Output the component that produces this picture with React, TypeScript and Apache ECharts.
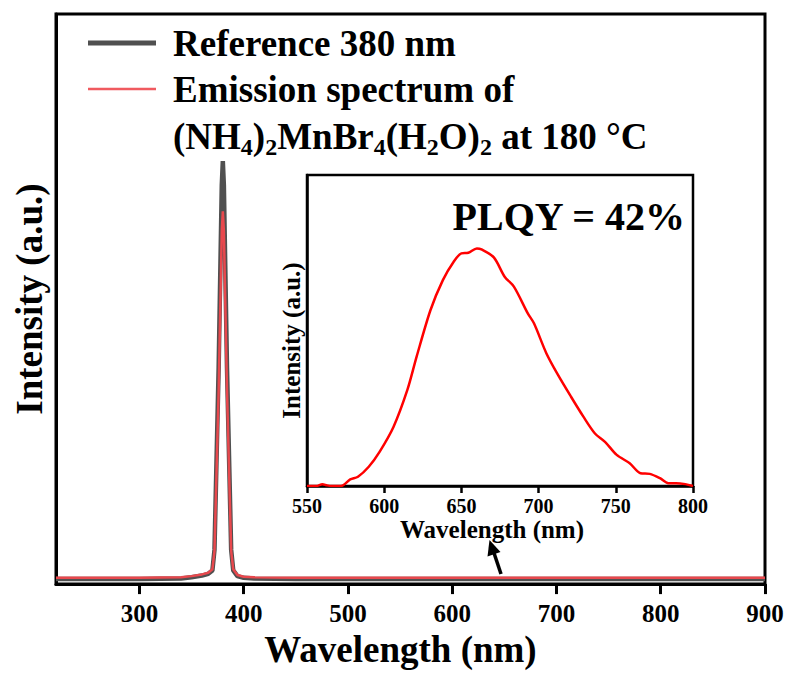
import React, { useEffect, useRef } from "react";
import * as echarts from "echarts";

const FONT = '"Liberation Serif", "Times New Roman", serif';

// Main spectrum (wavelength nm)
const refWl = [220, 300, 340, 350, 360, 366, 370, 372, 376, 379, 380, 381, 384, 388, 390, 394, 400, 410, 450, 500, 600, 700, 800, 900];
const refVal = [0.009, 0.009, 0.01, 0.012, 0.015, 0.018, 0.024, 0.06, 0.38, 0.70, 0.742, 0.70, 0.38, 0.06, 0.024, 0.014, 0.011, 0.01, 0.009, 0.009, 0.009, 0.009, 0.009, 0.009];
const emWl = [220, 300, 340, 350, 360, 366, 370, 372, 376, 379, 380, 381, 384, 388, 390, 394, 400, 410, 450, 500, 600, 700, 800, 900];
const emVal = [0.011, 0.011, 0.012, 0.014, 0.017, 0.02, 0.026, 0.058, 0.34, 0.62, 0.654, 0.62, 0.34, 0.058, 0.026, 0.016, 0.013, 0.012, 0.011, 0.011, 0.011, 0.011, 0.011, 0.011];
const mainTicks = [300, 400, 500, 600, 700, 800, 900];

// Inset PL spectrum
const plWl = [550, 556, 560, 563, 566, 572, 578, 583, 590, 597, 606, 615, 621, 630, 638, 645, 650, 654.5, 660, 663, 671, 678, 684, 693, 697, 705, 712, 721, 729, 736.5, 743, 750.6, 759, 766, 772, 778.6, 784, 789, 795, 800];
const plVal = [0.0, 0.0, 0.006, 0.002, 0.0, 0.0, 0.021, 0.03, 0.062, 0.11, 0.19, 0.309, 0.416, 0.566, 0.662, 0.721, 0.748, 0.75, 0.764, 0.761, 0.735, 0.673, 0.641, 0.555, 0.523, 0.427, 0.362, 0.287, 0.223, 0.169, 0.142, 0.1, 0.073, 0.041, 0.039, 0.025, 0.009, 0.009, 0.006, 0.0];

const pairs = (xs: number[], ys: number[]) => xs.map((x, i) => [x, ys[i]]);

export default function App() {
  const ref = useRef<HTMLDivElement>(null);
  useEffect(() => {
    const chart = echarts.init(ref.current!, null, { renderer: "svg" });
    const option: any = {
      animation: false,
      backgroundColor: "#fff",
      textStyle: { fontFamily: FONT },
      grid: [
        { left: 56, top: 14, width: 709, height: 573, show: true, borderColor: "#000", borderWidth: 3, backgroundColor: "transparent" },
        { left: 307, top: 175, width: 386, height: 311, show: true, borderColor: "#000", borderWidth: 2.5, backgroundColor: "#fff" },
      ],
      xAxis: [
        {
          type: "value", gridIndex: 0, min: 220, max: 900,
          name: "Wavelength (nm)", nameLocation: "middle", nameGap: 46,
          nameTextStyle: { fontFamily: FONT, fontWeight: "bold", fontSize: 37, color: "#000", padding: [0, 20, 0, 0] },
          axisLine: { show: true, onZero: false, lineStyle: { color: "#000", width: 3 } },
          axisTick: { show: true, inside: false, length: 10, lineStyle: { color: "#000", width: 3 }, customValues: mainTicks },
          axisLabel: { show: true, margin: 17, fontFamily: FONT, fontWeight: "bold", fontSize: 25, color: "#000", customValues: mainTicks },
          splitLine: { show: false },
        },
        {
          type: "value", gridIndex: 1, min: 550, max: 800, interval: 50,
          name: "Wavelength (nm)", nameLocation: "middle", nameGap: 28,
          nameTextStyle: { fontFamily: FONT, fontWeight: "bold", fontSize: 25, color: "#000", padding: [0, 16, 0, 0] },
          axisLine: { show: true, onZero: false, lineStyle: { color: "#000", width: 2.5 } },
          axisTick: { show: true, inside: false, length: 7, lineStyle: { color: "#000", width: 2.5 } },
          axisLabel: { show: true, margin: 10, fontFamily: FONT, fontWeight: "bold", fontSize: 20, color: "#000" },
          splitLine: { show: false },
        },
      ],
      yAxis: [
        {
          type: "value", gridIndex: 0, min: 0, max: 1,
          name: "Intensity (a.u.)", nameLocation: "middle", nameGap: 8,
          nameTextStyle: { fontFamily: FONT, fontWeight: "bold", fontSize: 37, color: "#000" },
          axisLine: { show: true, onZero: false, lineStyle: { color: "#000", width: 3 } },
          axisTick: { show: false }, axisLabel: { show: false }, splitLine: { show: false },
        },
        {
          type: "value", gridIndex: 1, min: 0, max: 1,
          name: "Intensity (a.u.)", nameLocation: "middle", nameGap: 3,
          nameTextStyle: { fontFamily: FONT, fontWeight: "bold", fontSize: 25, color: "#000", padding: [0, 20, 0, 0] },
          axisLine: { show: true, onZero: false, lineStyle: { color: "#000", width: 2.5 } },
          axisTick: { show: false }, axisLabel: { show: false }, splitLine: { show: false },
        },
      ],
      series: [
        {
          name: "Reference 380 nm", type: "line", xAxisIndex: 0, yAxisIndex: 0,
          data: pairs(refWl, refVal), showSymbol: false, smooth: false,
          lineStyle: { color: "#505050", width: 4.5 }, itemStyle: { color: "#505050" },
        },
        {
          name: "Emission spectrum", type: "line", xAxisIndex: 0, yAxisIndex: 0,
          data: pairs(emWl, emVal), showSymbol: false, smooth: false,
          lineStyle: { color: "#e8484d", width: 2.5 }, itemStyle: { color: "#e8484d" },
        },
        {
          name: "PL", type: "line", xAxisIndex: 1, yAxisIndex: 1,
          data: pairs(plWl, plVal), showSymbol: false, smooth: 0.3,
          lineStyle: { color: "#ff0000", width: 2.5 }, itemStyle: { color: "#ff0000" },
        },
      ],
      graphic: [
        { type: "line", shape: { x1: 88, y1: 43, x2: 156, y2: 43 }, style: { stroke: "#505050", lineWidth: 5 } },
        { type: "line", shape: { x1: 88, y1: 89, x2: 156, y2: 89 }, style: { stroke: "#f05a5f", lineWidth: 2.5 } },
        { type: "text", x: 173, y: 43.5, style: { text: "Reference 380 nm", font: `bold 37px ${FONT}`, fill: "#000", verticalAlign: "middle", align: "left" } },
        { type: "text", x: 173, y: 89, style: { text: "Emission spectrum of", font: `bold 37px ${FONT}`, fill: "#000", verticalAlign: "middle", align: "left" } },
        {
          type: "text", x: 173, y: 136,
          style: {
            text: "{m|(NH}{s|4}{m|)}{s|2}{m|MnBr}{s|4}{m|(H}{s|2}{m|O)}{s|2}{m| at 180 °C}",
            fill: "#000", verticalAlign: "middle", align: "left",
            rich: {
              m: { fontFamily: FONT, fontWeight: "bold", fontSize: 37, lineHeight: 46, fill: "#000", verticalAlign: "middle" },
              s: { fontFamily: FONT, fontWeight: "bold", fontSize: 24, lineHeight: 22, fill: "#000", verticalAlign: "bottom" },
            },
          },
        },
        { type: "text", x: 685, y: 216, style: { text: "PLQY = 42%", font: `bold 40px ${FONT}`, fill: "#000", verticalAlign: "middle", align: "right" } },
        { type: "line", shape: { x1: 501, y1: 574, x2: 494, y2: 553 }, style: { stroke: "#000", lineWidth: 3.5 } },
        { type: "polygon", shape: { points: [[489.5, 540], [500.5, 552], [487.5, 556.5]] }, style: { fill: "#000" } },
      ],
    };
    chart.setOption(option);
    return () => chart.dispose();
  }, []);
  return <div ref={ref} style={{ position: "fixed", left: 0, top: 0, width: 789, height: 673 }} />;
}
